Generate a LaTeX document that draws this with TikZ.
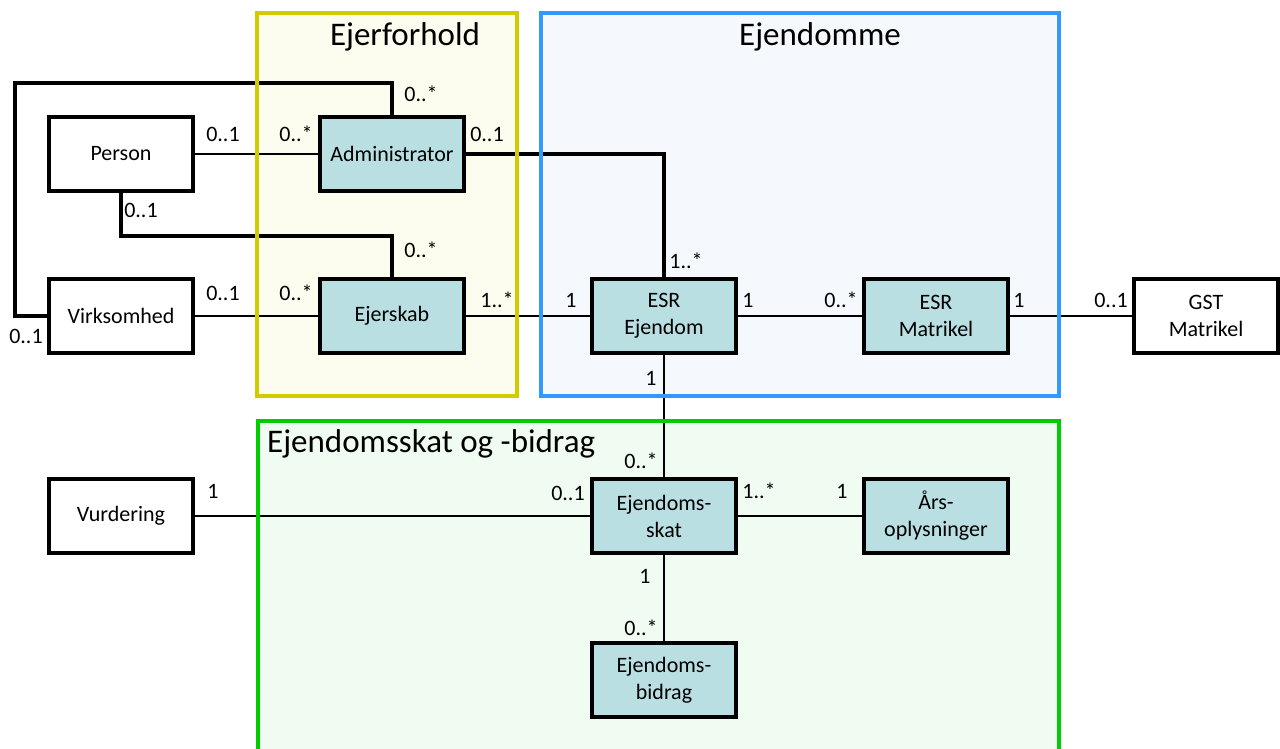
\documentclass[tikz,border=0pt]{standalone}
\usepackage{fontspec}
\setmainfont{Carlito}
\definecolor{entfill}{RGB}{185,223,226}
\definecolor{yframe}{RGB}{208,204,0}
\definecolor{yfill}{RGB}{252,253,238}
\definecolor{bframe}{RGB}{51,153,255}
\definecolor{bfill}{RGB}{245,249,253}
\definecolor{gframe}{RGB}{0,204,0}
\definecolor{gfill}{RGB}{240,251,242}
\pgfdeclarelayer{fillsl}
\pgfdeclarelayer{linesl}
\pgfdeclarelayer{framesl}
\pgfsetlayers{fillsl,linesl,framesl,main}
\tikzset{
  ent/.style={draw=black, line width=4pt, fill=entfill, minimum width=144pt, minimum height=74pt,
    align=center, inner sep=0pt, font=\fontsize{22}{27}\selectfont},
  extent/.style={ent, fill=white},
  thinc/.style={line width=2.2pt, line join=miter},
  thickc/.style={line width=4pt, line join=miter},
  lbl/.style={inner sep=0pt, font=\fontsize{22}{26}\selectfont},
  ttl/.style={inner sep=0pt, font=\fontsize{33}{38}\selectfont},
}
\begin{document}
\begin{tikzpicture}[x=1pt,y=-1pt]
\useasboundingbox (0,0) rectangle (1280,749);
% frame fills
\begin{pgfonlayer}{fillsl}
\fill[yfill] (257,13) rectangle (517,396);
\fill[bfill] (541,13) rectangle (1059,396);
\fill[gfill] (258,421) rectangle (1059,760);
\end{pgfonlayer}
% entities
\node[extent] (per) at (121,154) {Person};
\node[extent] (vir) at (121,316) {Virksomhed};
\node[ent] (adm) at (392,154) {Administrator};
\node[ent] (ejs) at (392,316) {Ejerskab};
\node[ent] (esre) at (664,316) {ESR\\Ejendom};
\node[ent] (esrm) at (936,316) {ESR\\Matrikel};
\node[extent] (gst) at (1206,316) {GST\\Matrikel};
\node[extent] (vur) at (121,516) {Vurdering};
\node[ent] (skat) at (664,516) {Ejendoms-\\skat};
\node[ent] (aars) at (936,516) {Års-\\oplysninger};
\node[ent] (bid) at (664,680) {Ejendoms-\\bidrag};
% connectors
\coordinate (c1) at (15,83);
\coordinate (c2) at (392,236);
\begin{pgfonlayer}{linesl}
\draw[thickc] (vir.west) -| (c1) -| (adm.north);
\draw[thickc] (per.south) |- (c2) -- (ejs.north);
\draw[thickc] (adm.east) -| (esre.north);
\draw[thinc] (per.east) -- (adm.west);
\draw[thinc] (vir.east) -- (ejs.west);
\draw[thinc] (ejs.east) -- (esre.west);
\draw[thinc] (esre.east) -- (esrm.west);
\draw[thinc] (esrm.east) -- (gst.west);
\draw[thinc] (esre.south) -- (skat.north);
\draw[thinc] (vur.east) -- (skat.west);
\draw[thinc] (skat.east) -- (aars.west);
\draw[thinc] (skat.south) -- (bid.north);
\end{pgfonlayer}
% frame borders
\begin{pgfonlayer}{framesl}
\draw[yframe, line width=4pt] (257,13) rectangle (517,396);
\draw[bframe, line width=4pt] (541,13) rectangle (1059,396);
\draw[gframe, line width=4pt] (258,421) rectangle (1059,760);
\end{pgfonlayer}
% titles
\node[ttl] (t1) at (405,37) {Ejerforhold};
\node[ttl] (t2) at (820,37) {Ejendomme};
\node[ttl, anchor=west] (t3) at (267,444) {Ejendomsskat og -bidrag};
% multiplicities
\node[lbl] (m1) at (421,94) {0..*};
\node[lbl] (m2) at (223,134) {0..1};
\node[lbl] (m3) at (296,134) {0..*};
\node[lbl] (m4) at (487,134) {0..1};
\node[lbl] (m5) at (141,210) {0..1};
\node[lbl] (m6) at (421,250) {0..*};
\node[lbl] (m7) at (686,261) {1..*};
\node[lbl] (m8) at (223,293) {0..1};
\node[lbl] (m9) at (296,293) {0..*};
\node[lbl] (m10) at (497,300) {1..*};
\node[lbl] (m11) at (571,300) {1};
\node[lbl] (m12) at (748,300) {1};
\node[lbl] (m13) at (841,300) {0..*};
\node[lbl] (m14) at (1019,300) {1};
\node[lbl] (m15) at (1111,300) {0..1};
\node[lbl] (m16) at (26,336) {0..1};
\node[lbl] (m17) at (651,378) {1};
\node[lbl] (m18) at (641,461) {0..*};
\node[lbl] (m19) at (213,491) {1};
\node[lbl] (m20) at (568,493) {0..1};
\node[lbl] (m21) at (759,491) {1..*};
\node[lbl] (m22) at (842,491) {1};
\node[lbl] (m23) at (645,576) {1};
\node[lbl] (m24) at (641,628) {0..*};
\end{tikzpicture}
\end{document}
